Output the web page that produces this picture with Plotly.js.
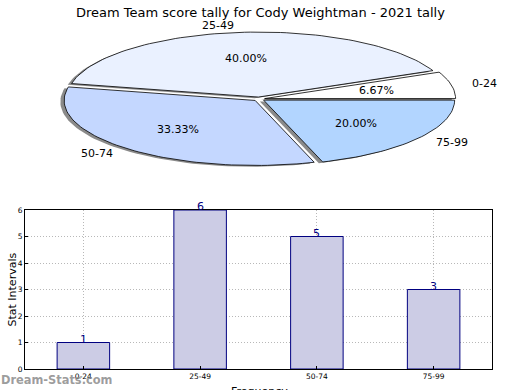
<!DOCTYPE html>
<html>
<head>
<meta charset="utf-8">
<script src="https://cdn.plot.ly/plotly-3.0.1.min.js"></script>
<style>html,body{margin:0;padding:0;background:#fff;}#chart{width:520px;height:390px;}</style>
</head>
<body>
<div id="chart"></div>
<script>
// ---- data ----
const categories = ["0-24", "25-49", "50-74", "75-99"];
const counts = [1, 6, 5, 3];
const sliceColors = ["#ffffff", "#eaf1ff", "#c4d7ff", "#b2d5ff"];
const yTicks = [0, 1, 2, 3, 4, 5, 6];
const titleText = "Dream Team score tally for Cody Weightman - 2021 tally";

// ---- pie (elliptical, matplotlib-like) ----
const total = counts.reduce((a, b) => a + b, 0);
const explode = 0.03;
const shadowOff = [-0.02, -0.02];
const traces = [];
const annotations = [];
let start = 0;
counts.forEach((v, i) => {
  const frac = v / total;
  const t1 = start * 2 * Math.PI;
  const t2 = (start + frac) * 2 * Math.PI;
  const mid = (t1 + t2) / 2;
  const cx = explode * Math.cos(mid), cy = explode * Math.sin(mid);
  const n = Math.max(8, Math.round(frac * 200));
  const xs = [cx], ys = [cy];
  for (let k = 0; k <= n; k++) {
    const t = t1 + (t2 - t1) * k / n;
    xs.push(cx + Math.cos(t));
    ys.push(cy + Math.sin(t));
  }
  xs.push(cx); ys.push(cy);
  // shadow
  traces.push({
    type: "scatter", mode: "lines", xaxis: "x2", yaxis: "y2",
    x: xs.map(x => x + shadowOff[0]), y: ys.map(y => y + shadowOff[1]),
    fill: "toself", fillcolor: "rgba(60,60,60,0.6)",
    line: {width: 0}, hoverinfo: "skip", showlegend: false
  });
  // wedge
  traces.push({
    type: "scatter", mode: "lines", xaxis: "x2", yaxis: "y2",
    x: xs, y: ys, fill: "toself", fillcolor: sliceColors[i],
    line: {color: "#000000", width: 0.8}, hoverinfo: "skip", showlegend: false
  });
  // labels
  const lx = cx + 1.1 * Math.cos(mid), ly = cy + 1.1 * Math.sin(mid);
  annotations.push({
    xref: "x2", yref: "y2", x: lx, y: ly, text: categories[i], showarrow: false,
    xanchor: lx > 0 ? "left" : "right", yanchor: "middle",
    font: {family: "DejaVu Sans", size: 11, color: "#000"}
  });
  annotations.push({
    xref: "x2", yref: "y2", x: cx + 0.6 * Math.cos(mid), y: cy + 0.6 * Math.sin(mid),
    text: (frac * 100).toFixed(2) + "%", showarrow: false,
    xanchor: "center", yanchor: "middle",
    font: {family: "DejaVu Sans", size: 11, color: "#000"}
  });
  start += frac;
});

// ---- bars ----
traces.push({
  type: "bar", x: categories, y: counts, xaxis: "x", yaxis: "y",
  width: 0.45, marker: {color: "#ccccE5", line: {color: "#000080", width: 1}},
  hoverinfo: "skip", showlegend: false
});
categories.forEach((c, i) => {
  annotations.push({
    xref: "x", yref: "y", x: c, y: counts[i], text: String(counts[i]),
    showarrow: false, yanchor: "bottom", yshift: -5,
    font: {family: "DejaVu Sans", size: 11, color: "#000080"}
  });
});

annotations.push({
  xref: "paper", yref: "paper", x: 0.5, y: 1 - 3/390, yanchor: "top", xanchor: "center",
  text: titleText, showarrow: false,
  font: {family: "DejaVu Sans", size: 13, color: "#000"}
});
annotations.push({
  xref: "paper", yref: "paper", x: 3/520, y: (390 - 290) / 390, yanchor: "middle", xanchor: "left",
  text: "Stat Intervals", textangle: -90, showarrow: false,
  font: {family: "DejaVu Sans", size: 11, color: "#000"}
});
annotations.push({
  xref: "paper", yref: "paper", x: 259/520, y: (390 - 383) / 390, yanchor: "top", xanchor: "center",
  text: "Frequency", showarrow: false,
  font: {family: "DejaVu Sans", size: 11, color: "#000"}
});
annotations.push({
  xref: "paper", yref: "paper", x: -1/520, y: (390 - 380) / 390, yanchor: "middle", xanchor: "left",
  text: "<b>Dream-Stats.com</b>", showarrow: false,
  font: {family: "DejaVu Sans", size: 11.4, color: "rgba(140,140,140,0.85)"}
});

const cxp = 259, cyp = 99, rx = 191, ry = 65;
const gridStyle = {showgrid: true, gridcolor: "#b8b8b8", griddash: "1px,2px", gridwidth: 1};
const layout = {
  width: 520, height: 390,
  margin: {l: 0, r: 0, t: 0, b: 0},
  paper_bgcolor: "#fff", plot_bgcolor: "rgba(0,0,0,0)",
  showlegend: false,
  xaxis: Object.assign({
    domain: [25/520, 492/520], range: [-0.5, 3.5], type: "category",
    showline: true, mirror: true, linecolor: "#000", linewidth: 1,
    ticks: "inside", ticklen: 3, tickcolor: "#000",
    tickfont: {family: "DejaVu Sans", size: 7.5, color: "#000"},
    zeroline: false, fixedrange: true
  }, gridStyle),
  yaxis: Object.assign({
    domain: [(390-369)/390, (390-210)/390], range: [0, 6],
    tickvals: yTicks, ticktext: yTicks.map(String),
    showline: true, mirror: true, linecolor: "#000", linewidth: 1,
    ticks: "inside", ticklen: 3, tickcolor: "#000",
    tickfont: {family: "DejaVu Sans", size: 7.5, color: "#000"},
    zeroline: false, fixedrange: true
  }, gridStyle),
  xaxis2: {
    domain: [0, 1], range: [(0 - cxp)/rx, (520 - cxp)/rx],
    visible: false, fixedrange: true
  },
  yaxis2: {
    domain: [190/390, 1], range: [(cyp - 200)/ry, cyp/ry],
    visible: false, fixedrange: true
  },
  annotations: annotations
};
Plotly.newPlot("chart", traces, layout, {staticPlot: true, displayModeBar: false});
</script>
</body>
</html>
